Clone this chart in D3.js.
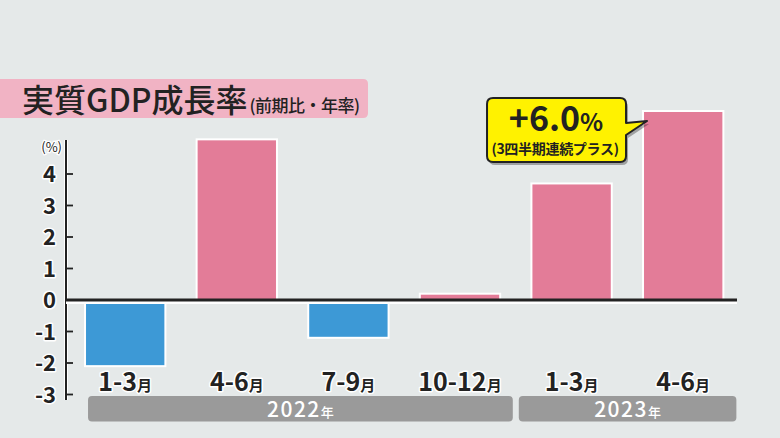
<!DOCTYPE html>
<html><head><meta charset="utf-8">
<script src="https://cdn.jsdelivr.net/npm/d3@7"></script>
<style>
html,body{margin:0;padding:0;background:#E5E9E9;}
svg{display:block;}
text{font-family:"Noto Sans CJK JP","Noto Sans",sans-serif;}
</style></head>
<body><svg id="c" width="780" height="438"></svg>
<script>
const categories = ["1-3","4-6","7-9","10-12","1-3","4-6"];
const values = [-2.1, 5.1, -1.2, 0.2, 3.7, 6.0];
const monthSuffix = "月";
const years = ["2022","2023"];
const yearSpans = [[0,3],[4,5]];
const yearSuffix = "年";
const yTicks = [-3,-2,-1,0,1,2,3,4];
const title = "実質GDP成長率";
const subtitle = "(前期比・年率)";
const unitLabel = "(%)";
const calloutMain = "+6.0";
const calloutPct = "%";
const calloutSub = "(3四半期連続プラス)";

(function(){
const svg = d3.select("#c");
const W = 780, H = 438;
svg.append("rect").attr("width",W).attr("height",H).attr("fill","#E5E9E9");

const x = d3.scaleBand().domain(d3.range(categories.length)).range([69.4,739]).paddingInner(0.28).paddingOuter(0.14);
const y = d3.scaleLinear().domain([-3,4]).range([394.5,174]);

const axisX = 66;
// title box
svg.append("path")
  .attr("d","M0,79 H363 Q368,79 368,84 V113 Q368,118 363,118 H0 Z")
  .attr("fill","#F1B3C4");
const tt = svg.append("text").attr("x",22).attr("y",112).attr("fill","#222");
tt.append("tspan").attr("font-size",32).attr("font-weight",500).text(title);
tt.append("tspan").attr("font-size",17).attr("font-weight",500).attr("dx",2).attr("letter-spacing",-0.5).text(subtitle);

// bars
svg.selectAll("rect.bar").data(values).join("rect").attr("class","bar")
  .attr("x",(d,i)=>x(i)).attr("width",x.bandwidth())
  .attr("y",d=>y(Math.max(0,d))).attr("height",d=>Math.abs(y(d)-y(0)))
  .attr("fill",d=>d>=0?"#E37C98":"#3D99D6")
  .attr("stroke","#fff").attr("stroke-width",2);

// y axis
const axTop = 140, axBottom = 400;
svg.append("line").attr("x1",axisX).attr("x2",axisX).attr("y1",axTop).attr("y2",axBottom)
  .attr("stroke","#fff").attr("stroke-width",4);
svg.append("line").attr("x1",axisX).attr("x2",axisX).attr("y1",axTop).attr("y2",axBottom)
  .attr("stroke","#222").attr("stroke-width",2);
const tk = svg.selectAll("g.tick").data(yTicks).join("g").attr("class","tick");
tk.filter(d=>d!==0).append("line").attr("x1",axisX).attr("x2",axisX+7).attr("y1",d=>y(d)).attr("y2",d=>y(d))
  .attr("stroke","#222").attr("stroke-width",1.8);
tk.append("text").attr("x",56).attr("y",d=>y(d)+8).attr("text-anchor","end")
  .attr("font-size",22).attr("font-weight",700).attr("fill","#222")
  .attr("stroke","#fff").attr("stroke-width",3).attr("paint-order","stroke").attr("stroke-linejoin","round")
  .text(d=>String(d));
svg.append("text").attr("x",62).attr("y",152).attr("text-anchor","end")
  .attr("font-size",13).attr("fill","#222")
  .attr("stroke","#fff").attr("stroke-width",2.5).attr("paint-order","stroke")
  .text(unitLabel);

// zero line
svg.append("line").attr("x1",axisX).attr("x2",737).attr("y1",y(0)+2).attr("y2",y(0)+2)
  .attr("stroke","#fff").attr("stroke-width",4);
svg.append("line").attr("x1",axisX).attr("x2",737).attr("y1",y(0)).attr("y2",y(0))
  .attr("stroke","#222").attr("stroke-width",3);

// x labels
const xl = svg.selectAll("text.xl").data(categories).join("text").attr("class","xl")
  .attr("x",(d,i)=>x(i)+x.bandwidth()/2).attr("y",391).attr("text-anchor","middle")
  .attr("fill","#222").attr("font-weight",700)
  .attr("stroke","#fff").attr("stroke-width",3).attr("paint-order","stroke").attr("stroke-linejoin","round");
xl.append("tspan").attr("font-size",25).text(d=>d);
xl.append("tspan").attr("font-size",15).text(monthSuffix);

// year bars
const yearLeft = (i)=> i===0 ? x(yearSpans[i][0])+3 : (x(yearSpans[i-1][1])+x.bandwidth()+x(yearSpans[i][0]))/2+3;
const yearRight = (i)=> i===years.length-1 ? x(yearSpans[i][1])+x.bandwidth()+13 : (x(yearSpans[i][1])+x.bandwidth()+x(yearSpans[i+1][0]))/2-3;
years.forEach((yr,i)=>{
  const l = yearLeft(i), r = yearRight(i);
  svg.append("rect").attr("x",l).attr("y",396).attr("width",r-l).attr("height",25.5).attr("rx",4)
    .attr("fill","#9A9A9A");
  const t = svg.append("text").attr("x",(l+r)/2).attr("y",416.5).attr("text-anchor","middle").attr("fill","#fff").attr("font-weight",500);
  t.append("tspan").attr("font-size",21).attr("letter-spacing",1.5).text(yr);
  t.append("tspan").attr("font-size",13).text(yearSuffix);
});

// callout
const li = values.length-1;
const cx = x(li) - 87, cTop = 98, cBot = 162, cL = cx-69, cR = cx+70;
const tipX = x(li)+4, tipY = y(values[li])+10;
const cpath = `M${cL+6},${cTop} H${cR-6} Q${cR},${cTop} ${cR},${cTop+6} V${cTop+25} L${tipX},${tipY} L${cR},${cTop+37} V${cBot-6} Q${cR},${cBot} ${cR-6},${cBot} H${cL+6} Q${cL},${cBot} ${cL},${cBot-6} V${cTop+6} Q${cL},${cTop} ${cL+6},${cTop} Z`;
svg.append("path").attr("d",cpath).attr("transform","translate(2,3)").attr("fill","rgba(0,0,0,0.3)");
svg.append("path").attr("d",cpath).attr("fill","#FFF200").attr("stroke","#222").attr("stroke-width",2).attr("stroke-linejoin","round");
const ct = svg.append("text").attr("x",cx).attr("y",131).attr("text-anchor","middle").attr("fill","#222").attr("font-weight",700);
ct.append("tspan").attr("font-size",34).text(calloutMain);
ct.append("tspan").attr("font-size",24).text(calloutPct);
svg.append("text").attr("x",cx-1).attr("y",154).attr("text-anchor","middle").attr("fill","#222")
  .attr("font-weight",700).attr("font-size",14).attr("letter-spacing",-0.3).text(calloutSub);
})();
</script></body></html>
